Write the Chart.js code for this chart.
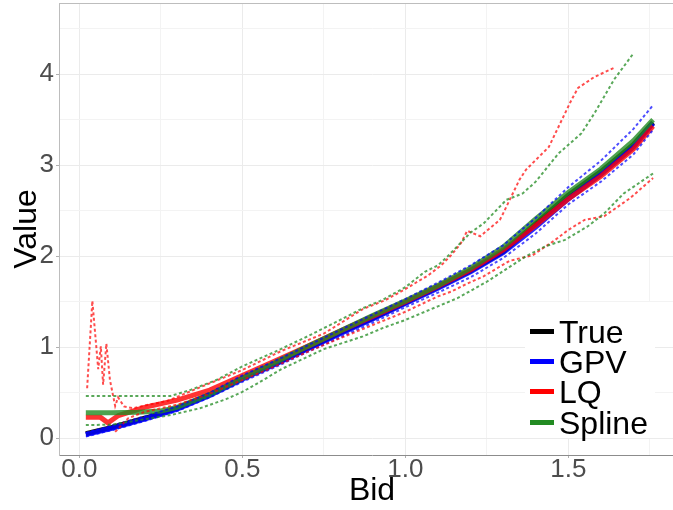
<!DOCTYPE html>
<html>
<head>
<meta charset="utf-8">
<script src="https://cdn.jsdelivr.net/npm/chart.js@4.4.0/dist/chart.umd.min.js"></script>
<style>
  html, body { margin: 0; padding: 0; overflow: hidden; background: #fff; }
  #wrap { position: relative; width: 685px; height: 510px; }
  #legend {
    position: absolute; left: 525px; top: 302px; width: 130px; height: 136px;
    background: #fff; font-family: "Liberation Sans", Arial, sans-serif; font-size: 32px; color: #000;
  }
  .row { position: absolute; left: 0; height: 30px; line-height: 30px; white-space: nowrap; }
  .swatch { position: absolute; left: 5px; top: 12px; width: 24px; height: 5px; }
  .label { position: absolute; left: 34px; top: 0; }
</style>
</head>
<body>
<div id="wrap">
  <canvas id="chart" width="685" height="510"></canvas>
  <div id="legend"></div>
</div>
<script>
// common bid grid for the true value and GPV estimate
const bids = [0.02, 0.1, 0.2, 0.3, 0.4, 0.5, 0.6, 0.7, 0.8, 0.9, 1.0, 1.1, 1.2, 1.3, 1.4, 1.5, 1.6, 1.7, 1.76];
const trueValue = [0.05, 0.12, 0.22, 0.33, 0.48, 0.66, 0.82, 0.99, 1.16, 1.32, 1.49, 1.66, 1.84, 2.05, 2.36, 2.67, 2.93, 3.23, 3.47];
const gpvValue = [0.04, 0.11, 0.21, 0.32, 0.47, 0.65, 0.81, 0.98, 1.15, 1.31, 1.48, 1.65, 1.83, 2.04, 2.32, 2.63, 2.90, 3.20, 3.46];
const gpvUpper = [0.06, 0.14, 0.24, 0.35, 0.50, 0.69, 0.85, 1.02, 1.19, 1.36, 1.53, 1.71, 1.90, 2.12, 2.42, 2.76, 3.05, 3.40, 3.66];
const gpvLower = [0.02, 0.09, 0.19, 0.30, 0.45, 0.62, 0.78, 0.95, 1.11, 1.27, 1.44, 1.60, 1.77, 1.98, 2.25, 2.57, 2.82, 3.12, 3.39];

const lqBid = [0.02, 0.065, 0.088, 0.12, 0.2, 0.3, 0.4, 0.5, 0.6, 0.7, 0.8, 0.9, 1.0, 1.1, 1.2, 1.3, 1.4, 1.5, 1.6, 1.7, 1.76];
const lqValue = [0.23, 0.23, 0.17, 0.25, 0.34, 0.42, 0.53, 0.69, 0.85, 1.01, 1.18, 1.34, 1.50, 1.67, 1.85, 2.07, 2.34, 2.63, 2.88, 3.18, 3.43];
const lqUpperBid = [0.024, 0.04, 0.058, 0.066, 0.073, 0.083, 0.094, 0.11, 0.119, 0.137, 0.165, 0.2, 0.27, 0.37, 0.5, 0.62, 0.75, 0.87, 0.94, 1.0,
  1.07, 1.11, 1.14, 1.17, 1.19, 1.23, 1.29, 1.30, 1.35, 1.37, 1.44, 1.51, 1.53, 1.58, 1.64];
const lqUpper = [0.55, 1.51, 0.76, 1.01, 0.59, 1.04, 0.64, 0.355, 0.45, 0.35, 0.33, 0.36, 0.41, 0.56, 0.75, 0.96, 1.15, 1.42, 1.52, 1.64,
  1.79, 1.90, 2.01, 2.14, 2.28, 2.22, 2.40, 2.47, 2.84, 2.95, 3.20, 3.72, 3.85, 3.97, 4.07];
const lqLowerBid = [0.11, 0.15, 0.2, 0.3, 0.4, 0.5, 0.6, 0.7, 0.8, 0.89, 1.0, 1.1, 1.14, 1.19, 1.24, 1.32, 1.39, 1.46, 1.5, 1.55, 1.61, 1.69, 1.76];
const lqLower = [0.07, 0.22, 0.29, 0.37, 0.49, 0.64, 0.79, 0.95, 1.10, 1.23, 1.39, 1.56, 1.61, 1.70, 1.78, 1.95, 2.01, 2.18, 2.29, 2.40, 2.44, 2.64, 2.86];

const splineBid = [0.02, 0.1, 0.18, 0.25, 0.3, 0.4, 0.5, 0.6, 0.7, 0.8, 0.9, 1.0, 1.1, 1.2, 1.3, 1.4, 1.5, 1.6, 1.7, 1.76];
const splineValue = [0.28, 0.28, 0.285, 0.30, 0.34, 0.48, 0.66, 0.83, 1.01, 1.18, 1.35, 1.51, 1.68, 1.87, 2.10, 2.41, 2.70, 2.96, 3.27, 3.50];
const splineUpperBid = [0.02, 0.28, 0.34, 0.42, 0.5, 0.6, 0.7, 0.8, 0.87, 0.93, 1.0, 1.06, 1.1, 1.13, 1.2, 1.24, 1.31, 1.36, 1.4, 1.47, 1.54, 1.58, 1.64, 1.7];
const splineUpper = [0.465, 0.465, 0.53, 0.64, 0.79, 0.95, 1.12, 1.30, 1.43, 1.52, 1.66, 1.83, 1.90, 2.0, 2.26, 2.36, 2.62, 2.69, 2.82, 3.13, 3.35, 3.57, 3.94, 4.23];
const splineLowerBid = [0.02, 0.1, 0.2, 0.28, 0.37, 0.45, 0.5, 0.55, 0.62, 0.75, 0.87, 0.93, 1.0, 1.1, 1.16, 1.25, 1.37, 1.43, 1.49, 1.56, 1.61, 1.67, 1.76];
const splineLower = [0.145, 0.15, 0.21, 0.255, 0.33, 0.43, 0.51, 0.61, 0.76, 0.98, 1.12, 1.21, 1.30, 1.45, 1.54, 1.72, 2.0, 2.11, 2.18, 2.33, 2.47, 2.69, 2.91];

const xGrid = [0, 0.25, 0.5, 0.75, 1.0, 1.25, 1.5, 1.75];
const xMajor = [0, 0.5, 1.0, 1.5];
const yGrid = [0, 0.5, 1, 1.5, 2, 2.5, 3, 3.5, 4, 4.5];
const yMajor = [0, 1, 2, 3, 4];

const legendItems = [
  { name: "True", color: "#000000" },
  { name: "GPV", color: "#0000ff" },
  { name: "LQ", color: "#ff0000" },
  { name: "Spline", color: "#228b22" },
];

function points(xs, ys) {
  return xs.map((x, i) => ({ x, y: ys[i] }));
}

function thick(data, color, order) {
  return { data, borderColor: color, borderWidth: 5, pointRadius: 0, showLine: true, order, borderCapStyle: "butt" };
}

function dotted(data, color, order) {
  return { data, borderColor: color, borderWidth: 2, borderDash: [3, 2.5], pointRadius: 0, showLine: true, order };
}

const frame = {
  id: "frame",
  afterDraw(chart) {
    const { ctx, chartArea } = chart;
    ctx.save();
    ctx.strokeStyle = "#bdbdbd";
    ctx.lineWidth = 1;
    ctx.beginPath();
    ctx.moveTo(chartArea.left, chartArea.top + 0.5);
    ctx.lineTo(chartArea.right, chartArea.top + 0.5);
    ctx.stroke();
    ctx.restore();
  },
};

new Chart(document.getElementById("chart"), {
  type: "scatter",
  data: {
    datasets: [
      thick(points(bids, trueValue), "rgba(0,0,0,0.9)", 9),
      thick(points(bids, gpvValue), "rgba(0,0,255,0.85)", 8),
      thick(points(lqBid, lqValue), "rgba(255,0,0,0.8)", 7),
      thick(points(splineBid, splineValue), "rgba(34,139,34,0.8)", 6),
      dotted(points(bids, gpvUpper), "rgba(0,0,255,0.7)", 5),
      dotted(points(bids, gpvLower), "rgba(0,0,255,0.7)", 5),
      dotted(points(lqUpperBid, lqUpper), "rgba(255,0,0,0.7)", 4),
      dotted(points(lqLowerBid, lqLower), "rgba(255,0,0,0.7)", 4),
      dotted(points(splineUpperBid, splineUpper), "rgba(34,139,34,0.75)", 3),
      dotted(points(splineLowerBid, splineLower), "rgba(34,139,34,0.75)", 3),
    ],
  },
  options: {
    responsive: false,
    animation: false,
    devicePixelRatio: 1,
    layout: { padding: { top: 3, right: 0, bottom: 0, left: 0 } },
    plugins: { legend: { display: false }, tooltip: { enabled: false } },
    scales: {
      x: {
        type: "linear",
        min: -0.0623,
        max: 1.858,
        afterFit: (scale) => {
          scale.height = 55;
          scale.paddingLeft = 0;
          scale.paddingRight = 0;
        },
        afterBuildTicks: (scale) => { scale.ticks = xGrid.map((v) => ({ value: v })); },
        ticks: {
          autoSkip: false,
          maxRotation: 0,
          padding: -4,
          color: "#4d4d4d",
          font: { family: "'Liberation Sans', Arial, sans-serif", size: 26 },
          callback: (v) => (xMajor.includes(v) ? v.toFixed(1) : ""),
        },
        grid: {
          color: (c) => (xMajor.includes(c.tick.value) ? "#ebebeb" : "#f3f3f3"),
          tickColor: (c) => (xMajor.includes(c.tick.value) ? "#b0b0b0" : "rgba(0,0,0,0)"),
          tickLength: 3,
        },
        border: { color: "#8c8c8c", width: 1 },
        title: {
          display: true,
          text: "Bid",
          color: "#000",
          font: { family: "'Liberation Sans', Arial, sans-serif", size: 32 },
          padding: { top: 0, bottom: 0 },
        },
      },
      y: {
        type: "linear",
        min: -0.1835,
        max: 4.783,
        afterFit: (scale) => {
          scale.width = 59;
          scale.paddingTop = 0;
          scale.paddingBottom = 0;
        },
        afterBuildTicks: (scale) => { scale.ticks = yGrid.map((v) => ({ value: v })); },
        ticks: {
          autoSkip: false,
          padding: 2,
          color: "#4d4d4d",
          font: { family: "'Liberation Sans', Arial, sans-serif", size: 26 },
          callback: (v) => (yMajor.includes(v) ? String(v) : ""),
        },
        grid: {
          color: (c) => (yMajor.includes(c.tick.value) ? "#ebebeb" : "#f3f3f3"),
          tickColor: (c) => (yMajor.includes(c.tick.value) ? "#b0b0b0" : "rgba(0,0,0,0)"),
          tickLength: 3,
        },
        border: { color: "#bdbdbd", width: 1 },
        title: {
          display: true,
          text: "Value",
          color: "#000",
          font: { family: "'Liberation Sans', Arial, sans-serif", size: 32 },
          padding: { top: 8, bottom: 0 },
        },
      },
    },
  },
  plugins: [frame],
});

document.getElementById("legend").innerHTML = legendItems
  .map((item, i) => `
    <div class="row" style="top:${[15, 45, 75, 106][i]}px">
      <div class="swatch" style="background:${item.color}"></div>
      <div class="label">${item.name}</div>
    </div>`)
  .join("");
</script>
</body>
</html>
